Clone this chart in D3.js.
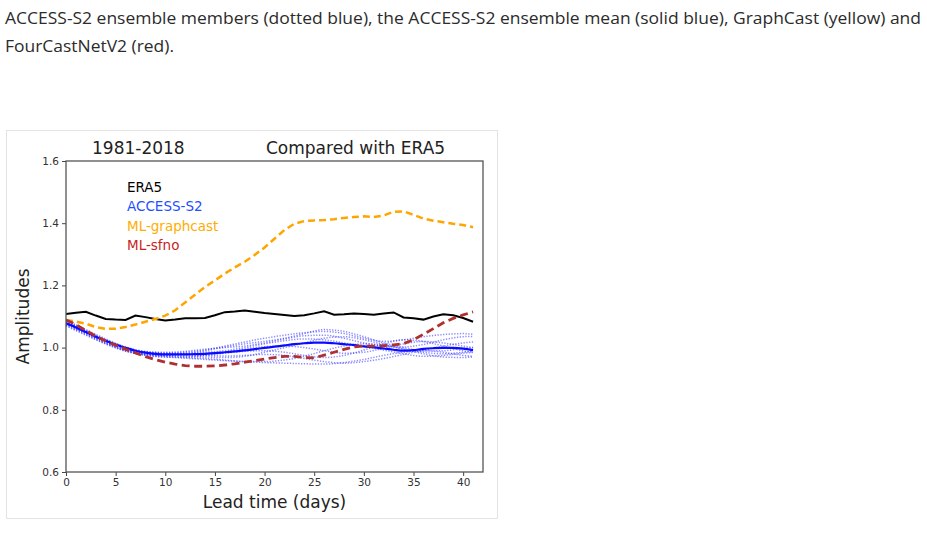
<!DOCTYPE html>
<html><head><meta charset="utf-8">
<script src="https://cdn.jsdelivr.net/npm/d3@7"></script>
<style>body{margin:0;background:#fff;} svg{display:block;}</style>
</head><body>
<svg id="c" width="927" height="553"></svg>
<script>
const captionLines = ["ACCESS-S2 ensemble members (dotted blue), the ACCESS-S2 ensemble mean (solid blue), GraphCast (yellow) and", "FourCastNetV2 (red)."];
const titleLeft = "1981-2018";
const titleRight = "Compared with ERA5";
const xLabel = "Lead time (days)";
const yLabel = "Amplitudes";
const xTicks = [0,5,10,15,20,25,30,35,40];
const yTicks = [0.6,0.8,1.0,1.2,1.4,1.6];
const legendLabels = ["ERA5","ACCESS-S2","ML-graphcast","ML-sfno"];
const legendColors = ["#000000","#1f4fff","#ffad00","#c81e1e"];

const days = d3.range(0,42);
const era5 = [1.108,1.112,1.115,1.103,1.092,1.090,1.089,1.103,1.098,1.092,1.087,1.090,1.094,1.094,1.095,1.104,1.114,1.116,1.119,1.115,1.111,1.108,1.105,1.102,1.104,1.110,1.117,1.106,1.107,1.110,1.108,1.106,1.110,1.113,1.097,1.094,1.090,1.100,1.107,1.104,1.095,1.083];
const accessMean = [1.078,1.065,1.050,1.035,1.022,1.010,0.999,0.990,0.984,0.980,0.978,0.978,0.978,0.979,0.980,0.982,0.985,0.988,0.991,0.995,0.999,1.003,1.007,1.011,1.014,1.016,1.016,1.014,1.011,1.008,1.004,1.001,0.997,0.993,0.990,0.992,0.996,0.998,0.999,0.999,0.997,0.992];
const graphcast = [1.089,1.084,1.077,1.066,1.060,1.061,1.066,1.074,1.083,1.092,1.103,1.120,1.145,1.170,1.195,1.216,1.238,1.258,1.276,1.298,1.322,1.350,1.378,1.398,1.407,1.409,1.410,1.413,1.417,1.420,1.422,1.420,1.425,1.437,1.438,1.427,1.415,1.408,1.403,1.398,1.394,1.387];
const sfno = [1.089,1.074,1.055,1.037,1.021,1.008,0.995,0.983,0.971,0.961,0.953,0.947,0.942,0.940,0.940,0.941,0.944,0.948,0.953,0.958,0.963,0.968,0.972,0.972,0.968,0.967,0.976,0.985,0.994,1.002,1.005,1.005,1.006,1.009,1.013,1.025,1.043,1.061,1.080,1.094,1.105,1.115];

const memberDays = [0,2,4,6,8,10,12,14,16,18,20,22,24,26,28,30,32,34,36,38,40,41];
const member1 = [1.085,1.055,1.025,1.000,0.985,0.982,0.985,0.992,1.005,1.018,1.030,1.040,1.048,1.052,1.045,1.030,1.020,1.025,1.035,1.042,1.045,1.043];
const member2 = [1.080,1.050,1.020,0.995,0.980,0.975,0.972,0.970,0.968,0.972,0.985,1.000,1.015,1.030,1.035,1.025,1.010,0.995,0.985,0.980,0.985,0.988];
const member3 = [1.078,1.048,1.018,0.992,0.978,0.972,0.968,0.965,0.960,0.955,0.955,0.960,0.972,0.990,1.005,1.012,1.008,0.995,0.980,0.970,0.968,0.970];
const member4 = [1.075,1.045,1.015,0.990,0.978,0.976,0.980,0.990,1.002,1.012,1.020,1.030,1.045,1.058,1.052,1.035,1.015,1.000,0.990,0.990,0.998,1.000];
const member5 = [1.082,1.052,1.022,0.998,0.985,0.980,0.978,0.975,0.973,0.975,0.978,0.975,0.965,0.955,0.950,0.955,0.965,0.978,0.992,1.005,1.015,1.018];
const member6 = [1.070,1.040,1.012,0.990,0.976,0.970,0.966,0.962,0.958,0.955,0.952,0.950,0.948,0.947,0.952,0.962,0.975,0.985,0.990,0.985,0.975,0.972];
const member7 = [1.088,1.058,1.028,1.002,0.988,0.985,0.988,0.995,1.000,1.005,1.015,1.028,1.038,1.040,1.030,1.015,1.005,1.002,1.010,1.025,1.035,1.036];
const member8 = [1.076,1.046,1.016,0.993,0.980,0.976,0.975,0.978,0.985,0.995,1.003,1.005,1.000,0.990,0.982,0.985,0.998,1.012,1.020,1.015,1.005,1.000];
const member9 = [1.072,1.042,1.012,0.988,0.975,0.970,0.970,0.975,0.982,0.988,0.990,0.985,0.975,0.968,0.975,0.992,1.012,1.025,1.020,1.005,0.990,0.985];
const member10 = [1.084,1.054,1.024,0.999,0.986,0.982,0.982,0.985,0.990,1.000,1.012,1.022,1.028,1.025,1.015,1.005,0.992,0.980,0.972,0.975,0.982,0.985];
const members = [member1,member2,member3,member4,member5,member6,member7,member8,member9,member10];

const svg = d3.select("#c");

// caption text
const capFont = "'Open Sans', 'Liberation Sans', sans-serif";
svg.append("text").attr("x",5).attr("y",24).attr("font-family",capFont).attr("font-size",15.5)
  .attr("fill","#2b2b2b").attr("textLength",916).attr("lengthAdjust","spacingAndGlyphs").text(captionLines[0]);
svg.append("text").attr("x",5).attr("y",52).attr("font-family",capFont).attr("font-size",15.5)
  .attr("fill","#2b2b2b").attr("textLength",169).attr("lengthAdjust","spacingAndGlyphs").text(captionLines[1]);

// figure frame
svg.append("rect").attr("x",6.5).attr("y",130.5).attr("width",491).attr("height",388)
  .attr("fill","#fff").attr("stroke","#e4e4e4").attr("stroke-width",1);

const L=66, R=483, T=161, B=472;
const x = d3.scaleLinear().domain([0,42]).range([L,R]);
const y = d3.scaleLinear().domain([0.6,1.6]).range([B,T]);
const font = "'DejaVu Sans', sans-serif";

svg.append("clipPath").attr("id","pc").append("rect").attr("x",L).attr("y",T).attr("width",R-L).attr("height",B-T);
const g = svg.append("g").attr("clip-path","url(#pc)");

const line = d3.line().x(d=>x(d[0])).y(d=>y(d[1])).curve(d3.curveMonotoneX);
const straight = d3.line().x(d=>x(d[0])).y(d=>y(d[1]));

members.forEach(m=>{
  g.append("path").datum(memberDays.map((d,i)=>[d,m[i]])).attr("d",line)
   .attr("fill","none").attr("stroke","#3030ff").attr("stroke-opacity",0.55)
   .attr("stroke-width",1.5).attr("stroke-dasharray","1.3,1.5");
});
g.append("path").datum(days.map((d,i)=>[d,accessMean[i]])).attr("d",line)
  .attr("fill","none").attr("stroke","#0a0aff").attr("stroke-width",2.2);
g.append("path").datum(days.map((d,i)=>[d,era5[i]])).attr("d",straight)
  .attr("fill","none").attr("stroke","#000").attr("stroke-width",2);
g.append("path").datum(days.map((d,i)=>[d,graphcast[i]])).attr("d",straight)
  .attr("fill","none").attr("stroke","#ffa500").attr("stroke-width",2.5).attr("stroke-dasharray","7,4");
g.append("path").datum(days.map((d,i)=>[d,sfno[i]])).attr("d",straight)
  .attr("fill","none").attr("stroke","#b03030").attr("stroke-width",2.8).attr("stroke-dasharray","8,4.5");

// axes
const xAxis = svg.append("g").attr("transform",`translate(0,${B})`)
  .call(d3.axisBottom(x).tickValues(xTicks).tickSize(4).tickPadding(3).tickFormat(d3.format("d")));
const yAxis = svg.append("g").attr("transform",`translate(${L},0)`)
  .call(d3.axisLeft(y).tickValues(yTicks).tickSize(4).tickPadding(3).tickFormat(d3.format(".1f")));
[xAxis,yAxis].forEach(a=>{
  a.select(".domain").remove();
  a.selectAll("line").attr("stroke","#444").attr("stroke-width",1);
  a.selectAll("text").attr("font-family",font).attr("font-size",10.5).attr("fill","#333");
});
svg.append("rect").attr("x",L).attr("y",T).attr("width",R-L).attr("height",B-T)
  .attr("fill","none").attr("stroke","#555").attr("stroke-width",1.3);

// titles
svg.append("text").attr("x",92).attr("y",154).attr("font-family",font).attr("font-size",17).attr("fill","#222").text(titleLeft);
svg.append("text").attr("x",266).attr("y",154).attr("font-family",font).attr("font-size",17).attr("fill","#222").text(titleRight);

// axis labels
svg.append("text").attr("x",(L+R)/2).attr("y",508).attr("text-anchor","middle")
  .attr("font-family",font).attr("font-size",17).attr("fill","#222").text(xLabel);
svg.append("text").attr("transform",`translate(29,${(T+B)/2}) rotate(-90)`).attr("text-anchor","middle")
  .attr("font-family",font).attr("font-size",17).attr("fill","#222").text(yLabel);

// legend (text only)
legendLabels.forEach((lab,i)=>{
  svg.append("text").attr("x",127).attr("y",192+i*19.3).attr("font-family",font).attr("font-size",13.5)
    .attr("fill",legendColors[i]).text(lab);
});
</script>
</body></html>
